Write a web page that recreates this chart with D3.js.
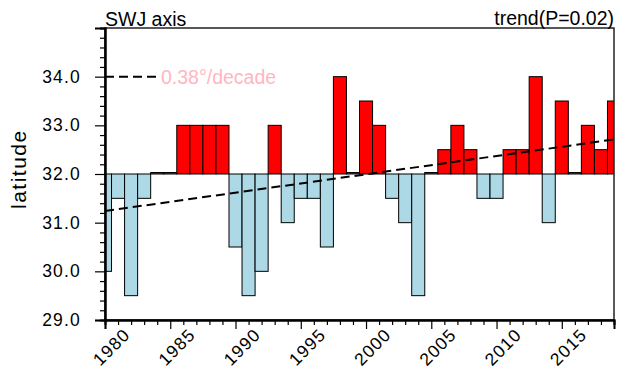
<!DOCTYPE html>
<html>
<head>
<meta charset="utf-8">
<script src="https://cdn.jsdelivr.net/npm/d3@7"></script>
<style>
  body { margin: 0; background: #fff; }
  text { font-family: "Liberation Sans", Arial, Helvetica, sans-serif; fill: #000; }
</style>
</head>
<body>
<div id="chart"></div>
<script>
// SWJ axis latitude per year (degrees N)
const years = [1980, 1981, 1982, 1983, 1984, 1985, 1986, 1987, 1988, 1989,
               1990, 1991, 1992, 1993, 1994, 1995, 1996, 1997, 1998, 1999,
               2000, 2001, 2002, 2003, 2004, 2005, 2006, 2007, 2008, 2009,
               2010, 2011, 2012, 2013, 2014, 2015, 2016, 2017, 2018, 2019];
const latitude = [30.0, 31.5, 29.5, 31.5, 32.03, 32.03, 33.0, 33.0, 33.0, 33.0,
                  30.5, 29.5, 30.0, 33.0, 31.0, 31.5, 31.5, 30.5, 34.0, 32.03,
                  33.5, 33.0, 31.5, 31.0, 29.5, 32.03, 32.5, 33.0, 32.5, 31.5,
                  31.5, 32.5, 32.5, 34.0, 31.0, 33.5, 32.03, 33.0, 32.5, 33.5];
const refValue = 32.0;
// linear trend end points
const trendYears = [1980, 2019];
const trendValues = [31.24, 32.71];
const yTicks = [29, 30, 31, 32, 33, 34];
const xTicks = [1980, 1985, 1990, 1995, 2000, 2005, 2010, 2015];

const W = 617, H = 370;
const margin = {top: 28, right: 3, bottom: 50, left: 105};
const width = W - margin.left - margin.right;
const height = H - margin.top - margin.bottom;

const svg = d3.select('#chart').append('svg')
    .attr('width', W)
    .attr('height', H);

const chart = svg.append('g')
    .attr('transform', `translate(${margin.left},${margin.top})`);

const x = d3.scaleLinear().domain([1980, 2019]).range([0, width]);
const y = d3.scaleLinear().domain([29, 35]).range([height, 0]);

svg.append('defs').append('clipPath').attr('id', 'plot-clip')
  .append('rect').attr('width', width).attr('height', height);

// bars, drawn from the reference latitude
const data = years.map((yr, i) => ({year: yr, value: latitude[i]}));
chart.append('g').attr('clip-path', 'url(#plot-clip)')
  .selectAll('.bar')
  .data(data)
  .join('rect')
    .attr('class', 'bar')
    .attr('x', d => x(d.year - 0.5))
    .attr('width', d => x(d.year + 0.5) - x(d.year - 0.5))
    .attr('y', d => y(Math.max(d.value, refValue)))
    .attr('height', d => Math.abs(y(d.value) - y(refValue)))
    .attr('fill', d => d.value >= refValue ? '#ff0000' : '#add8e6')
    .attr('stroke', '#000')
    .attr('stroke-width', 1);

// trend line
const trend = trendYears.map((yr, i) => [yr, trendValues[i]]);
chart.append('path')
    .datum(trend)
    .attr('d', d3.line().x(d => x(d[0])).y(d => y(d[1])))
    .attr('fill', 'none')
    .attr('stroke', '#000')
    .attr('stroke-width', 2)
    .attr('stroke-dasharray', '9,5');

// legend for the trend
chart.append('line')
    .attr('x1', 0).attr('x2', 55)
    .attr('y1', y(34)).attr('y2', y(34))
    .attr('stroke', '#000')
    .attr('stroke-width', 2)
    .attr('stroke-dasharray', '9,5');
chart.append('text')
    .attr('x', 56)
    .attr('y', y(34))
    .attr('dy', '0.36em')
    .style('font-size', '19.5px')
    .style('fill', '#ffb6c1')
    .text('0.38°/decade');

// frame
chart.append('rect')
    .attr('width', width).attr('height', height)
    .attr('fill', 'none')
    .attr('stroke', '#222')
    .attr('stroke-width', 1.5);

// y axis: major and minor ticks
const yMinor = d3.range(29, 35.01, 0.2).filter(v => Math.abs(v - Math.round(v)) > 0.01);
chart.append('g')
    .attr('class', 'axis y-minor')
    .call(d3.axisLeft(y).tickValues(yMinor).tickSize(5).tickFormat(''));
chart.append('g')
    .attr('class', 'axis y-axis')
    .call(d3.axisLeft(y).tickValues(yTicks).tickSize(10).tickPadding(14).tickFormat(d3.format('.1f')));

// x axis: major and minor ticks
const xMinor = years.filter(v => v % 5 !== 0);
chart.append('g')
    .attr('class', 'axis x-minor')
    .attr('transform', `translate(0,${height})`)
    .call(d3.axisBottom(x).tickValues(xMinor).tickSize(5).tickFormat(''));
const xAxisG = chart.append('g')
    .attr('class', 'axis x-axis')
    .attr('transform', `translate(0,${height})`)
    .call(d3.axisBottom(x).tickValues(xTicks).tickSize(9).tickFormat(d3.format('d')));

xAxisG.selectAll('text')
    .attr('y', 0).attr('dy', '0.35em')
    .attr('text-anchor', 'middle')
    .attr('transform', 'translate(6,27) rotate(-45)');

chart.selectAll('.axis .domain').attr('stroke', '#000').attr('stroke-width', 2);
chart.selectAll('.axis .tick line').attr('stroke', '#000').attr('stroke-width', 1.2);
chart.selectAll('.axis text')
    .style('font-size', '17.5px')
    .style('letter-spacing', '1.2px')
    .style('font-family', '"Liberation Sans", Arial, sans-serif');

// titles
svg.append('text')
    .attr('x', margin.left)
    .attr('y', 26)
    .style('font-size', '19.5px')
    .text('SWJ axis');
svg.append('text')
    .attr('x', margin.left + width)
    .attr('y', 25)
    .attr('text-anchor', 'end')
    .style('font-size', '19.5px')
    .text('trend(P=0.02)');

// y axis title
svg.append('text')
    .attr('text-anchor', 'middle')
    .attr('transform', `translate(26,${margin.top + y(32.1)}) rotate(-90)`)
    .style('font-size', '21px')
    .style('letter-spacing', '1.5px')
    .text('latitude');
</script>
</body>
</html>
